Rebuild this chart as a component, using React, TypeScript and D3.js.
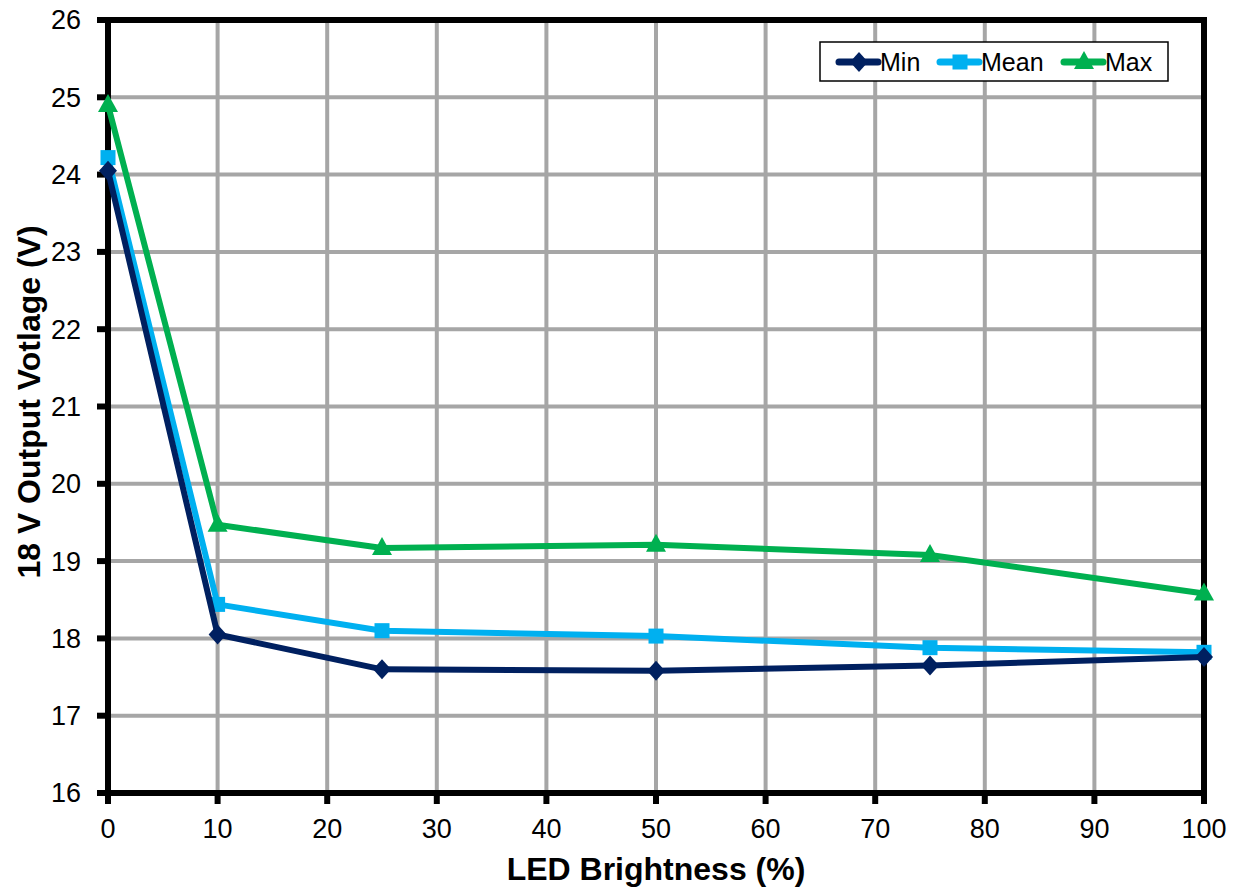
import React from "react";
import * as d3 from "d3";

const xValues = [0, 10, 25, 50, 75, 100];
const minValues = [24.05, 18.05, 17.6, 17.58, 17.65, 17.76];
const meanValues = [24.22, 18.44, 18.1, 18.03, 17.88, 17.82];
const maxValues = [24.9, 19.47, 19.17, 19.21, 19.08, 18.58];
const xTicks = [0, 10, 20, 30, 40, 50, 60, 70, 80, 90, 100];
const yTicks = [16, 17, 18, 19, 20, 21, 22, 23, 24, 25, 26];
const seriesNames = ["Min", "Mean", "Max"];

const colors: Record<string, string> = { Min: "#002060", Mean: "#00b0f0", Max: "#00b050" };

const W = 1237, H = 892;
const L = 108, R = 1204, T = 20, B = 793;
const font = "Liberation Sans, Arial, sans-serif";

function Marker({ name, x, y }: { name: string; x: number; y: number }) {
  const c = colors[name];
  if (name === "Min") {
    return <path d={`M${x},${y - 10}L${x + 9},${y}L${x},${y + 10}L${x - 9},${y}Z`} fill={c} />;
  }
  if (name === "Mean") {
    return <rect x={x - 7.5} y={y - 7.5} width={15} height={15} fill={c} />;
  }
  return <path d={`M${x},${y - 11}L${x + 10},${y + 7}L${x - 10},${y + 7}Z`} fill={c} />;
}

export default function App() {
  const x = d3.scaleLinear().domain([0, 100]).range([L, R]);
  const y = d3.scaleLinear().domain([16, 26]).range([B, T]);
  const data: Record<string, number[]> = { Min: minValues, Mean: meanValues, Max: maxValues };
  const line = d3.line<number>().x((_, i) => x(xValues[i])).y((d) => y(d));
  const drawOrder = ["Max", "Mean", "Min"];
  const legendX = [837, 938, 1062];

  return (
    <svg width={W} height={H} style={{ position: "absolute", left: 0, top: 0 }} fontFamily={font}>
      <rect width={W} height={H} fill="#fff" />
      {xTicks.map((t) => (
        <line key={"gx" + t} x1={x(t)} x2={x(t)} y1={T} y2={B} stroke="#a6a6a6" strokeWidth={4} />
      ))}
      {yTicks.map((t) => (
        <line key={"gy" + t} x1={L} x2={R} y1={y(t)} y2={y(t)} stroke="#a6a6a6" strokeWidth={4} />
      ))}
      <line x1={L} x2={R + 3} y1={T} y2={T} stroke="#000" strokeWidth={6} />
      <line x1={R} x2={R} y1={T} y2={B} stroke="#000" strokeWidth={6} />
      <line x1={L} x2={L} y1={T - 3} y2={B + 3} stroke="#000" strokeWidth={6} />
      <line x1={L - 3} x2={R + 3} y1={B} y2={B} stroke="#000" strokeWidth={6} />
      {yTicks.map((t) => (
        <g key={"yt" + t}>
          <line x1={L - 11} x2={L} y1={y(t)} y2={y(t)} stroke="#000" strokeWidth={6} />
          <text x={L - 27} y={y(t)} dy="0.35em" textAnchor="end" fontSize={27} fill="#000">{t}</text>
        </g>
      ))}
      {xTicks.map((t) => (
        <g key={"xt" + t}>
          <line x1={x(t)} x2={x(t)} y1={B} y2={B + 11} stroke="#000" strokeWidth={6} />
          <text x={x(t)} y={838} textAnchor="middle" fontSize={27} fill="#000">{t}</text>
        </g>
      ))}
      {drawOrder.map((n) => (
        <g key={n}>
          <path d={line(data[n]) || ""} fill="none" stroke={colors[n]} strokeWidth={6} strokeLinejoin="round" />
          {data[n].map((v, i) => (
            <Marker key={i} name={n} x={x(xValues[i])} y={y(v)} />
          ))}
        </g>
      ))}
      <text x={656} y={880} textAnchor="middle" fontSize={32} fontWeight="bold" fill="#000">LED Brightness (%)</text>
      <text transform={`translate(40,402) rotate(-90)`} textAnchor="middle" fontSize={32} fontWeight="bold" fill="#000">18 V Output Votlage (V)</text>
      <rect x={820} y={42} width={348} height={39} fill="#fff" stroke="#000" strokeWidth={1.5} />
      {seriesNames.map((n, i) => {
        const lx = legendX[i];
        return (
          <g key={"lg" + n}>
            <line x1={lx + 2} x2={lx + 41} y1={62} y2={62} stroke={colors[n]} strokeWidth={7} strokeLinecap="round" />
            <Marker name={n} x={lx + 22} y={62} />
            <text x={lx + 43} y={62} dy="0.35em" fontSize={25} fill="#000">{n}</text>
          </g>
        );
      })}
    </svg>
  );
}
